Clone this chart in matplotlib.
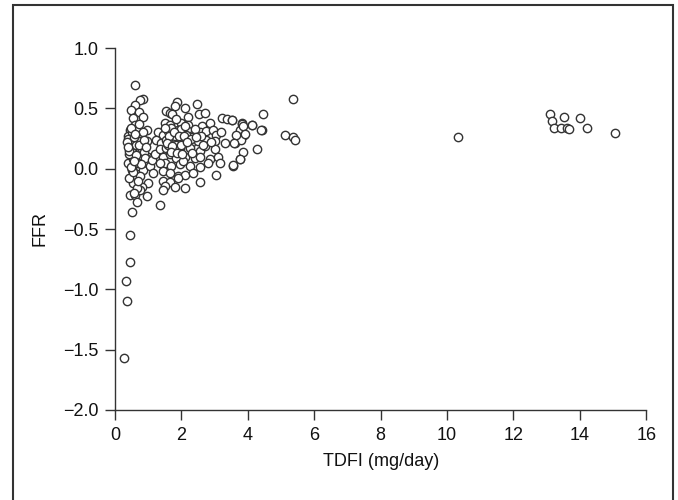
import matplotlib.pyplot as plt
import matplotlib.patches as patches

# low-dose cluster (TDFI < 1.4 mg/day)
low_x = [0.27, 0.36, 0.33, 0.45, 0.45, 0.51, 1.36,
         0.59, 0.85, 0.75, 0.60, 0.47, 0.72, 0.85, 0.55, 0.60, 0.45, 0.70, 0.95,
         0.40, 0.55, 0.78, 0.50, 0.75, 0.95, 0.45, 0.65, 0.80, 0.55, 1.00, 1.15,
         1.30, 0.40, 0.55, 0.70, 0.85, 0.50, 0.55, 0.75, 1.05, 1.15, 1.00, 0.55,
         0.80, 0.45, 0.60, 0.75, 0.95, 0.65, 0.50, 0.38, 0.42, 0.62, 0.68, 0.88,
         0.52, 0.58, 0.43, 0.66, 0.90, 1.10, 1.22, 0.48, 0.72, 0.35, 0.57, 0.83,
         0.42, 0.63, 0.77, 0.53, 0.68, 0.47, 0.86, 0.60, 0.40, 0.73, 0.92, 0.56]
low_y = [-1.57, -1.10, -0.93, -0.77, -0.55, -0.36, -0.30,
         0.69, 0.58, 0.57, 0.53, 0.49, 0.47, 0.43, 0.42, 0.36, 0.32, 0.32, 0.32,
         0.27, 0.28, 0.28, 0.23, 0.23, 0.23, 0.18, 0.17, 0.16, 0.13, 0.10, 0.10,
         0.10, 0.05, 0.08, 0.02, -0.01, -0.01, -0.05, -0.06, 0.02, -0.04, -0.12, -0.12,
         -0.15, -0.22, -0.22, -0.18, -0.23, -0.28, 0.30, 0.25, 0.12, 0.20, 0.05, 0.14,
         0.00, 0.26, -0.08, -0.16, 0.09, 0.07, 0.12, 0.34, 0.20, 0.22, -0.20, 0.30,
         0.15, 0.11, 0.04, -0.03, -0.10, 0.01, 0.24, 0.29, 0.18, 0.37, 0.18, 0.06]

# main cluster (1.2 to 5.5 mg/day)
mid_x = [2.46, 1.88, 1.81, 1.53, 1.66, 1.73, 2.11, 2.21, 2.53, 2.71,
         1.51, 1.66, 2.00, 2.20, 2.61, 2.86, 3.21, 3.36, 3.51, 3.82,
         4.12, 4.47, 4.42, 1.30, 1.45, 1.60, 1.75, 1.90, 2.05, 2.20,
         2.35, 2.55, 2.75, 2.95, 3.05, 3.75, 3.90, 1.25, 1.40, 1.55,
         1.70, 1.85, 2.00, 2.15, 2.30, 2.50, 2.75, 3.00, 3.30, 3.60,
         3.80, 1.35, 1.55, 1.75, 1.95, 2.25, 2.55, 3.00, 4.27, 1.45,
         1.65, 1.85, 2.10, 2.40, 2.55, 2.85, 3.10, 3.75, 1.50, 1.70,
         1.95, 2.25, 2.55, 2.80, 3.15, 3.55, 1.45, 1.65, 1.90, 2.10,
         2.35, 1.45, 1.65, 1.90, 2.55, 3.05, 1.50, 1.80, 2.10, 1.45,
         5.37, 4.14, 4.41, 5.11, 5.37, 5.41, 3.52, 3.82, 3.85, 3.64,
         3.92, 3.58, 3.87, 3.77, 3.54, 1.80, 2.00, 2.30, 1.60, 2.70,
         1.70, 2.40, 2.90, 1.95, 2.15, 3.20, 1.35, 2.60, 1.85, 2.05,
         1.62, 1.78, 1.92, 2.08, 2.28, 1.58, 1.72, 1.98, 2.18, 2.45,
         1.68, 1.88, 2.02, 2.32, 1.52, 2.65, 1.83, 2.12]
mid_y = [0.54, 0.55, 0.52, 0.48, 0.46, 0.45, 0.50, 0.43, 0.45, 0.46,
         0.38, 0.36, 0.38, 0.36, 0.35, 0.38, 0.42, 0.41, 0.40, 0.38,
         0.36, 0.45, 0.32, 0.30, 0.28, 0.31, 0.29, 0.32, 0.29, 0.31,
         0.28, 0.30, 0.31, 0.32, 0.28, 0.32, 0.28, 0.24, 0.21, 0.24,
         0.23, 0.25, 0.23, 0.24, 0.21, 0.23, 0.24, 0.23, 0.21, 0.21,
         0.24, 0.16, 0.17, 0.16, 0.17, 0.17, 0.15, 0.16, 0.16, 0.10,
         0.12, 0.09, 0.10, 0.09, 0.10, 0.08, 0.10, 0.08, 0.05, 0.02,
         0.04, 0.02, 0.01, 0.05, 0.05, 0.02, -0.02, -0.04, -0.06, -0.05,
         -0.04, -0.10, -0.11, -0.08, -0.11, -0.05, -0.14, -0.15, -0.16, -0.18,
         0.58, 0.36, 0.32, 0.28, 0.26, 0.24, 0.40, 0.37, 0.35, 0.28,
         0.29, 0.21, 0.14, 0.08, 0.03, 0.27, 0.33, 0.26, 0.20, 0.19,
         0.34, 0.33, 0.22, 0.14, 0.28, 0.30, 0.05, 0.27, 0.20, 0.06,
         0.27, 0.30, 0.27, 0.27, 0.25, 0.21, 0.19, 0.20, 0.22, 0.26,
         0.14, 0.13, 0.12, 0.13, 0.34, 0.20, 0.41, 0.35]

# high-dose patients
high_x = [10.34, 13.10, 13.16, 13.22, 13.42, 13.51, 13.60, 13.66, 14.00, 14.23, 15.06]
high_y = [0.26, 0.455, 0.395, 0.34, 0.34, 0.43, 0.34, 0.33, 0.42, 0.34, 0.295]

x_ticks = [0, 2, 4, 6, 8, 10, 12, 14, 16]
y_ticks = [-2.0, -1.5, -1.0, -0.5, 0.0, 0.5, 1.0]

plt.rcParams["font.family"] = ["Liberation Sans", "DejaVu Sans"]

fig = plt.figure(figsize=(6.78, 5.0), dpi=100)
ax = fig.add_axes([0.1696, 0.18, 0.7836, 0.724])

xs = low_x + mid_x + high_x
ys = low_y + mid_y + high_y
ax.scatter(xs, ys, s=36, facecolors="white", edgecolors="#333333",
           linewidths=1.0, zorder=3, clip_on=False)

ax.set_xlim(0, 16)
ax.set_ylim(-2.0, 1.0)
ax.set_xticks(x_ticks)
ax.set_yticks(y_ticks)
ax.set_xticklabels([str(t) for t in x_ticks])
ax.set_yticklabels([f"{t:.1f}".replace("-", "\u2212") for t in y_ticks])

for side in ("top", "right"):
    ax.spines[side].set_visible(False)
for side in ("left", "bottom"):
    ax.spines[side].set_color("#333333")
    ax.spines[side].set_linewidth(1.0)

ax.tick_params(direction="out", length=7, width=1.0, color="#333333",
               labelsize=13, labelcolor="#111111", pad=5)
ax.set_xlabel("TDFI (mg/day)", fontsize=13, color="#111111", labelpad=7)
ax.set_ylabel("FFR", fontsize=13, color="#111111", labelpad=10)

frame = patches.Rectangle((13 / 678, -0.02), 660 / 678, 1.02 - 5 / 500,
                          transform=fig.transFigure, fill=False,
                          edgecolor="#333333", linewidth=1.5)
fig.patches.append(frame)

fig.savefig("out.png", dpi=100)
